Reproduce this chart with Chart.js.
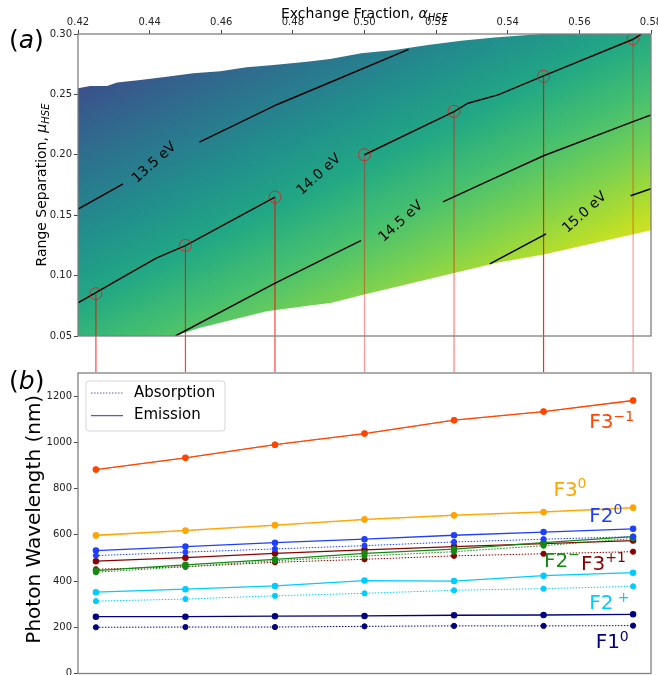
<!DOCTYPE html>
<html>
<head>
<meta charset="utf-8">
<script src="https://cdn.jsdelivr.net/npm/chart.js@4/dist/chart.umd.min.js"></script>
<style>
  body { margin: 0; background: #fff; }
  #wrap { position: relative; width: 658px; height: 675px; overflow: hidden; }
  #top { position: absolute; left: 0; top: 0; }
  #bot { position: absolute; left: 0; top: 372px; }
  .pl { position: absolute; font-family: 'DejaVu Sans', sans-serif; font-size: 25px; line-height: 1; color: #000; }
</style>
</head>
<body>
<div id="wrap">
  <canvas id="top" width="658" height="372"></canvas>
  <canvas id="bot" width="658" height="303"></canvas>
  <div class="pl" style="left:9px;top:27px">(<i>a</i>)</div>
  <div class="pl" style="left:9px;top:368px">(<i>b</i>)</div>
</div>
<script>
// ---- shared x values (exchange fraction) ----
const alphas = [0.425, 0.45, 0.475, 0.5, 0.525, 0.55, 0.575];
// range separation picked at each alpha (red circles)
const muPicked = [0.085, 0.125, 0.165, 0.200, 0.236, 0.265, 0.296];
const redAlpha = [0.75, 0.75, 0.75, 0.4, 0.5, 0.85, 0.4];

// ---- panel (a): contour lines [alpha, mu] ----
const c135a = [[0.42, 0.155], [0.4326, 0.176]];
const c135b = [[0.4539, 0.2105], [0.4758, 0.2419], [0.4898, 0.2592], [0.5123, 0.2873]];
const c140a = [[0.42, 0.0774], [0.4346, 0.1022], [0.442, 0.1147], [0.45, 0.1248], [0.475, 0.165]];
const c140b = [[0.50, 0.200], [0.525, 0.2358], [0.5289, 0.2427], [0.5373, 0.2496], [0.55, 0.2653], [0.575, 0.2956], [0.5773, 0.30]];
const c145a = [[0.4472, 0.05], [0.4748, 0.0934], [0.4898, 0.1155], [0.499, 0.1289]];
const c145b = [[0.5219, 0.161], [0.5354, 0.1794], [0.55, 0.1992], [0.575, 0.2275], [0.58, 0.233]];
const c150a = [[0.535, 0.1097], [0.5507, 0.1345]];
const c150b = [[0.5743, 0.1661], [0.58, 0.1719]];
const contourSegs = [c135a, c135b, c140a, c140b, c145a, c145b, c150a, c150b];

const contourLabels = ['13.5 eV', '14.0 eV', '14.5 eV', '15.0 eV'];
const contourLabelAt = [[0.4413, 0.1934], [0.4873, 0.1835], [0.5102, 0.1447], [0.5615, 0.1521]];

// edges of the computed region
const regionTop = [[0.42, 0.2551], [0.4234, 0.257], [0.4281, 0.257], [0.4309, 0.2598], [0.4374, 0.262],
  [0.4448, 0.2647], [0.4522, 0.2675], [0.4597, 0.2691], [0.4671, 0.2725], [0.4746, 0.2744],
  [0.4839, 0.2771], [0.4904, 0.2793], [0.4991, 0.284], [0.5084, 0.2868], [0.5177, 0.2909],
  [0.527, 0.2945], [0.5363, 0.2972], [0.5493, 0.30], [0.58, 0.30]];
const regionBottom = [[0.58, 0.1375], [0.55, 0.1174], [0.5367, 0.1105], [0.525, 0.1022], [0.4999, 0.0843],
  [0.4905, 0.0774], [0.4848, 0.0752], [0.4727, 0.0705], [0.4634, 0.0636], [0.4541, 0.0568],
  [0.447, 0.05], [0.42, 0.05]];

// energy anchors on contours, colour range
const anchorLo = [0.42, 0.155], eLo = 13.5;
const anchorHi = [0.5507, 0.1345], eHi = 15.0;
const vmin = 11.87, vmax = 15.54;
const viridis = ['#440154', '#482475', '#414487', '#355f8d', '#2a788e', '#21918c',
  '#22a884', '#44bf70', '#7ad151', '#bddf26', '#fde725'];

// ---- panel (b): photon wavelengths (nm) ----
const f3m1Em = [882, 933, 990, 1038, 1096, 1133, 1181];
const f3m1Ab = [882, 933, 990, 1038, 1096, 1133, 1181];
const f30Em = [598, 619, 642, 667, 685, 699, 718];
const f30Ab = [596, 617, 640, 665, 683, 697, 716];
const f20Em = [532, 549, 566, 581, 598, 612, 626];
const f20Ab = [510, 525, 539, 553, 569, 581, 592];
const f3p1Em = [486, 501, 520, 535, 549, 562, 575];
const f3p1Ab = [451, 462, 481, 494, 509, 518, 527];
const f2mEm = [445, 470, 494, 520, 538, 566, 592];
const f2mAb = [438, 462, 488, 508, 527, 553, 584];
const f2pEm = [352, 365, 379, 402, 400, 423, 436];
const f2pAb = [313, 322, 336, 347, 360, 367, 377];
const f10Em = [246, 246, 248, 249, 252, 253, 256];
const f10Ab = [200, 201, 201, 204, 206, 206, 207];

const wlTicks = [0, 200, 400, 600, 800, 1000, 1200];

const series = [
  { em: f3m1Em, ab: f3m1Ab, color: '#ff4500', base: 'F3', sup: '\u22121', at: [0.5633, 1062] },
  { em: f30Em, ab: f30Ab, color: '#ffa500', base: 'F3', sup: '0', at: [0.5533, 768] },
  { em: f20Em, ab: f20Ab, color: '#1f3fff', base: 'F2', sup: '0', at: [0.5633, 657] },
  { em: f2mEm, ab: f2mAb, color: '#138a13', base: 'F2', sup: '\u2212', at: [0.5507, 462] },
  { em: f3p1Em, ab: f3p1Ab, color: '#8b0000', base: 'F3', sup: '+1', at: [0.5610, 448] },
  { em: f2pEm, ab: f2pAb, color: '#00ccff', base: 'F2', sup: ' +', at: [0.5633, 278] },
  { em: f10Em, ab: f10Ab, color: '#000080', base: 'F1', sup: '0', at: [0.5651, 109] },
];

const fam = "'DejaVu Sans', sans-serif";
const toPts = arr => arr.map(p => ({ x: p[0], y: p[1] }));

// heat map + contour labels for panel (a)
const heatPlugin = {
  id: 'heat',
  beforeDatasetsDraw(chart) {
    const { ctx, chartArea: ca, scales: { x, y } } = chart;
    const px = p => [x.getPixelForValue(p[0]), y.getPixelForValue(p[1])];
    ctx.save();
    ctx.beginPath();
    ctx.rect(ca.left, ca.top, ca.width, ca.height);
    ctx.clip();
    ctx.beginPath();
    regionTop.concat(regionBottom).forEach((p, i) => {
      const q = px(p);
      if (i) ctx.lineTo(q[0], q[1]); else ctx.moveTo(q[0], q[1]);
    });
    ctx.closePath();
    const d0 = px(c140a[0]), d1 = px(c140b[c140b.length - 1]);
    let dx = d1[0] - d0[0], dy = d1[1] - d0[1];
    const L = Math.hypot(dx, dy); dx /= L; dy /= L;
    const nx = -dy, ny = dx;
    const pLo = px(anchorLo), pHi = px(anchorHi);
    const sLo = pLo[0] * nx + pLo[1] * ny, sHi = pHi[0] * nx + pHi[1] * ny;
    const k = (eHi - eLo) / (sHi - sLo);
    const t0 = (vmin - eLo) / k, t1 = (vmax - eLo) / k;
    const g = ctx.createLinearGradient(pLo[0] + nx * t0, pLo[1] + ny * t0, pLo[0] + nx * t1, pLo[1] + ny * t1);
    viridis.forEach((c, i) => g.addColorStop(i / (viridis.length - 1), c));
    ctx.fillStyle = g;
    ctx.fill();
    ctx.restore();
  },
  afterDatasetsDraw(chart) {
    const { ctx, scales: { x, y } } = chart;
    ctx.save();
    ctx.fillStyle = '#000';
    ctx.font = '14px ' + fam;
    ctx.textAlign = 'center';
    ctx.textBaseline = 'middle';
    contourLabels.forEach((t, i) => {
      const p = contourLabelAt[i];
      ctx.save();
      ctx.translate(x.getPixelForValue(p[0]), y.getPixelForValue(p[1]));
      ctx.rotate(-42 * Math.PI / 180);
      ctx.fillText(t, 0, 0);
      ctx.restore();
    });
    ctx.restore();
  }
};

const framePlugin = {
  id: 'frame',
  afterDraw(chart) {
    const { ctx, chartArea: ca } = chart;
    ctx.save();
    ctx.strokeStyle = '#808080';
    ctx.lineWidth = 1.3;
    ctx.strokeRect(ca.left, ca.top, ca.width, ca.height);
    ctx.restore();
  }
};

// text with italic symbol + subscript
function drawSubTitle(ctx, main, sym, sub, size) {
  ctx.font = size + 'px ' + fam;
  const w1 = ctx.measureText(main).width;
  ctx.font = 'italic ' + size + 'px ' + fam;
  const w2 = ctx.measureText(sym).width;
  ctx.font = 'italic ' + Math.round(size * 0.7) + 'px ' + fam;
  const w3 = ctx.measureText(sub).width;
  let x0 = -(w1 + w2 + w3) / 2;
  ctx.font = size + 'px ' + fam;
  ctx.fillText(main, x0, 0);
  ctx.font = 'italic ' + size + 'px ' + fam;
  ctx.fillText(sym, x0 + w1, 0);
  ctx.font = 'italic ' + Math.round(size * 0.7) + 'px ' + fam;
  ctx.fillText(sub, x0 + w1 + w2, size * 0.22);
}

const titlesA = {
  id: 'titlesA',
  afterDraw(chart) {
    const { ctx, chartArea: ca } = chart;
    ctx.save();
    ctx.fillStyle = '#000';
    ctx.textBaseline = 'alphabetic';
    ctx.textAlign = 'left';
    ctx.save();
    ctx.translate((ca.left + ca.right) / 2, 18);
    drawSubTitle(ctx, 'Exchange Fraction, ', '\u03b1', 'HSE', 14);
    ctx.restore();
    ctx.save();
    ctx.translate(45.5, (ca.top + ca.bottom) / 2);
    ctx.rotate(-Math.PI / 2);
    drawSubTitle(ctx, 'Range Separation, ', '\u03bc', 'HSE', 14);
    ctx.restore();
    ctx.restore();
  }
};

const topDatasets = [];
topDatasets.push({
  data: alphas.map((a, i) => ({ x: a, y: muPicked[i] })),
  pointRadius: 6, pointBackgroundColor: 'rgba(0,0,0,0)',
  pointBorderColor: 'rgba(220,30,30,0.85)', pointBorderWidth: 1, showLine: false
});
contourSegs.forEach(seg => topDatasets.push({
  data: toPts(seg), showLine: true, pointRadius: 0,
  borderColor: '#000', borderWidth: 1.5, tension: 0
}));
alphas.forEach((a, i) => topDatasets.push({
  data: [{ x: a, y: muPicked[i] }, { x: a, y: 0 }], showLine: true, pointRadius: 0,
  borderColor: 'rgba(255,0,0,' + redAlpha[i] + ')', borderWidth: 1.2, clip: false
}));

const tickFont = { family: fam, size: 10 };

new Chart(document.getElementById('top'), {
  type: 'scatter',
  data: { datasets: topDatasets },
  options: {
    responsive: false, animation: false, events: [],
    layout: { autoPadding: false, padding: { left: 0, right: 7, top: 0, bottom: 36 } },
    plugins: { legend: { display: false }, tooltip: { enabled: false } },
    scales: {
      x: {
        type: 'linear', position: 'top', min: 0.42, max: 0.58,
        ticks: { stepSize: 0.02, autoSkip: false, maxRotation: 0, padding: 2, color: '#222', font: tickFont,
          callback: v => v.toFixed(2) },
        grid: { drawOnChartArea: false, tickLength: 4, color: '#444' },
        border: { display: false },
        afterFit: s => { s.height = 34; s.paddingLeft = 0; s.paddingRight = 0; }
      },
      y: {
        min: 0.05, max: 0.30,
        ticks: { stepSize: 0.05, autoSkip: false, padding: 2, color: '#222', font: tickFont,
          callback: v => v.toFixed(2) },
        grid: { drawOnChartArea: false, tickLength: 4, color: '#444' },
        border: { display: false },
        afterFit: s => { s.width = 78; s.paddingTop = 0; s.paddingBottom = 0; }
      }
    }
  },
  plugins: [heatPlugin, framePlugin, titlesA]
});

// ---- panel (b) ----
const botDatasets = [];
series.forEach(s => {
  botDatasets.push({
    data: alphas.map((a, i) => ({ x: a, y: s.em[i] })), showLine: true,
    borderColor: s.color, backgroundColor: s.color, pointBackgroundColor: s.color,
    pointBorderColor: s.color, pointRadius: 2.6, borderWidth: 1.3
  });
  botDatasets.push({
    data: alphas.map((a, i) => ({ x: a, y: s.ab[i] })), showLine: true,
    borderColor: s.color, backgroundColor: s.color, pointBackgroundColor: s.color,
    pointBorderColor: s.color, pointRadius: 2.6, borderWidth: 1, borderDash: [1.5, 1.5]
  });
});

const labelsB = {
  id: 'labelsB',
  afterDraw(chart) {
    const { ctx, chartArea: ca, scales: { x, y } } = chart;
    ctx.save();
    ctx.textBaseline = 'alphabetic';
    ctx.textAlign = 'left';
    series.forEach(s => {
      const X = x.getPixelForValue(s.at[0]) - 2, Y = y.getPixelForValue(s.at[1]);
      ctx.fillStyle = s.color;
      ctx.font = '20px ' + fam;
      ctx.fillText(s.base, X, Y);
      const w = ctx.measureText(s.base).width;
      ctx.font = '14px ' + fam;
      ctx.fillText(s.sup, X + w, Y - 7.5);
    });
    // y title
    ctx.save();
    ctx.fillStyle = '#000';
    ctx.font = '20px ' + fam;
    ctx.textAlign = 'center';
    ctx.translate(39.5, (ca.top + ca.bottom) / 2 - 4);
    ctx.rotate(-Math.PI / 2);
    ctx.fillText('Photon Wavelength (nm)', 0, 0);
    ctx.restore();
    // legend
    const L = ca.left + 8, T = ca.top + 8, W = 139, H = 50;
    ctx.fillStyle = 'rgba(255,255,255,0.85)';
    ctx.strokeStyle = '#d6d6d6';
    ctx.lineWidth = 1;
    ctx.beginPath();
    ctx.roundRect(L, T, W, H, 3);
    ctx.fill();
    ctx.stroke();
    ctx.strokeStyle = '#5c5cb8';
    ctx.setLineDash([1.5, 1.5]);
    ctx.beginPath(); ctx.moveTo(L + 5, T + 12); ctx.lineTo(L + 37, T + 12); ctx.stroke();
    ctx.setLineDash([]);
    ctx.lineWidth = 1.3;
    ctx.beginPath(); ctx.moveTo(L + 5, T + 34.6); ctx.lineTo(L + 37, T + 34.6); ctx.stroke();
    ctx.fillStyle = '#000';
    ctx.font = '15px ' + fam;
    ctx.textBaseline = 'middle';
    ctx.fillText('Absorption', L + 48, T + 12);
    ctx.fillText('Emission', L + 48, T + 34.6);
    ctx.restore();
  }
};

new Chart(document.getElementById('bot'), {
  type: 'scatter',
  data: { datasets: botDatasets },
  options: {
    responsive: false, animation: false, events: [],
    layout: { autoPadding: false, padding: { left: 0, right: 7, top: 1, bottom: 1.5 } },
    plugins: { legend: { display: false }, tooltip: { enabled: false } },
    scales: {
      x: { type: 'linear', display: false, min: 0.42, max: 0.58 },
      y: {
        min: 0, max: 1300,
        ticks: { stepSize: 200, autoSkip: false, includeBounds: false, padding: 2, color: '#222', font: tickFont,
          callback: v => String(v) },
        afterBuildTicks: s => { s.ticks = wlTicks.map(v => ({ value: v })); },
        grid: { drawOnChartArea: false, tickLength: 4, color: '#444' },
        border: { display: false },
        afterFit: s => { s.width = 78; s.paddingTop = 0; s.paddingBottom = 0; }
      }
    }
  },
  plugins: [framePlugin, labelsB]
});
</script>
</body>
</html>
